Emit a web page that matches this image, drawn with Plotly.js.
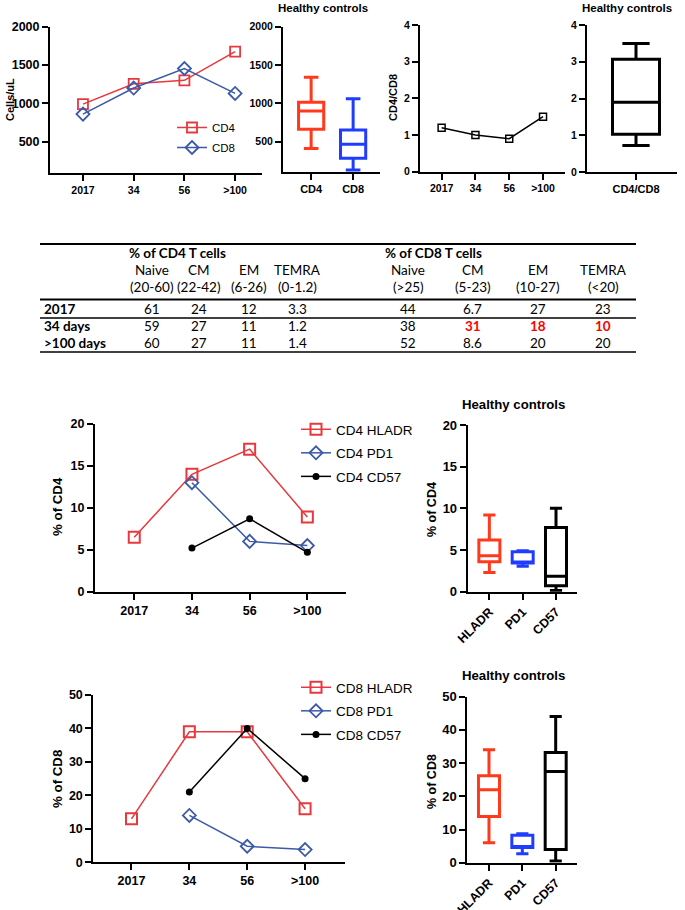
<!DOCTYPE html>
<html>
<head>
<meta charset="utf-8">
<script src="https://cdn.plot.ly/plotly-3.0.1.min.js"></script>
<style>html,body{margin:0;padding:0;background:#fff;}#chart{width:685px;height:910px;}</style>
</head>
<body>
<div id="chart"></div>
<script>
// ---------------- DATA ----------------
const timepoints = ['2017', '34', '56', '>100'];

const cd4Counts = [990, 1255, 1300, 1675];
const cd8Counts = [860, 1200, 1455, 1130];

const ratioCd4Cd8 = [1.2, 1.0, 0.9, 1.5];

const cd4Hladr = [6.5, 14, 17, 8.9];
const cd4Pd1 = [null, 13, 6, 5.5];
const cd4Cd57 = [null, 5.2, 8.7, 4.7];

const cd8Hladr = [13, 39, 39, 16];
const cd8Pd1 = [null, 14, 4.8, 3.8];
const cd8Cd57 = [null, 21, 40, 25];

// healthy control box summaries: [lowerfence, q1, median, q3, upperfence]
const hcCountCats = ['CD4', 'CD8'];
const hcCd4Count = [410, 662, 900, 1014, 1340];
const hcCd8Count = [131, 284, 467, 653, 1061];

const hcRatioCats = ['CD4/CD8'];
const hcRatio = [0.72, 1.03, 1.9, 3.07, 3.5];

const hcMarkerCats = ['HLADR', 'PD1', 'CD57'];
const hcCd4Hladr = [2.3, 3.6, 4.3, 6.2, 9.2];
const hcCd4Pd1 = [3.05, 3.45, 3.55, 4.8, 4.9];
const hcCd4Cd57 = [0.15, 0.7, 1.85, 7.7, 10];

const hcCd8Hladr = [6, 13.9, 22, 26.2, 34];
const hcCd8Pd1 = [2.7, 4.6, 4.8, 8.3, 8.7];
const hcCd8Cd57 = [0.5, 4, 27.5, 33.2, 44];

// table
const cd4Subsets = ['Naive', 'CM', 'EM', 'TEMRA'];
const cd4Ranges = ['(20-60)', '(22-42)', '(6-26)', '(0-1.2)'];
const cd8Subsets = ['Naive', 'CM', 'EM', 'TEMRA'];
const cd8Ranges = ['(>25)', '(5-23)', '(10-27)', '(<20)'];
const rowLabels = ['2017', '34 days', '>100 days'];
const row2017 = [61, 24, 12, 3.3, 44, 6.7, 27, 23];
const row34 = [59, 27, 11, 1.2, 38, 31, 18, 10];
const row100 = [60, 27, 11, 1.4, 52, 8.6, 20, 20];
const row34Abnormal = [5, 6, 7]; // column indices shown in red

// ---------------- LAYOUT HELPERS ----------------
const W = 685, H = 910;
const FONT = 'Liberation Sans, Arial, sans-serif';
const TFONT = 'Lato, Open Sans, sans-serif';
const RED = '#e8383d', BLUE = '#3d5aa8', BOXRED = '#ff3a1c', BOXBLUE = '#1f3cff';
const px = v => v / W;
const py = v => 1 - v / H;
const dX = (a, b) => [px(a), px(b)];
const dY = (top, bottom) => [py(bottom), py(top)];

function axis(domain, anchor, extra, fsize) {
  return Object.assign({
    domain: domain, anchor: anchor,
    showline: true, linewidth: 2, linecolor: '#000',
    ticks: 'outside', ticklen: 6, tickwidth: 2, tickcolor: '#000',
    showgrid: false, zeroline: false, fixedrange: true,
    tickfont: {family: FONT, size: fsize, color: '#000', weight: 'bold'}
  }, extra);
}

function lineTrace(y, name, xa, ya, color, symbol, msize, mline, legend) {
  return {
    type: 'scatter', mode: 'lines+markers', x: timepoints, y: y, name: name,
    xaxis: xa, yaxis: ya, legend: legend, showlegend: !!legend, legendgroup: name,
    line: {color: color, width: 1.5},
    marker: {symbol: symbol, size: msize, color: color, line: {color: color, width: mline}},
    connectgaps: false, hoverinfo: 'skip'
  };
}

function boxTrace(cat, s, xa, ya, color, width) {
  return {
    type: 'box', x: [cat], lowerfence: [s[0]], q1: [s[1]], median: [s[2]], q3: [s[3]], upperfence: [s[4]],
    xaxis: xa, yaxis: ya, showlegend: false, boxpoints: false,
    line: {color: color, width: 3}, fillcolor: 'rgba(0,0,0,0)',
    width: width, whiskerwidth: 0.58, hoverinfo: 'skip'
  };
}

// ---------------- TRACES ----------------
const traces = [
  lineTrace(cd4Counts, 'CD4', 'x', 'y', RED, 'square-open', 10, 1.8, 'legend'),
  lineTrace(cd8Counts, 'CD8', 'x', 'y', BLUE, 'diamond-open', 10, 1.8, 'legend'),
  boxTrace(hcCountCats[0], hcCd4Count, 'x2', 'y2', BOXRED, 0.6),
  boxTrace(hcCountCats[1], hcCd8Count, 'x2', 'y2', BOXBLUE, 0.6),
  lineTrace(ratioCd4Cd8, 'CD4/CD8', 'x3', 'y3', '#000', 'square-open', 7, 1.5, null),
  boxTrace(hcRatioCats[0], hcRatio, 'x4', 'y4', '#000', 0.94),
  lineTrace(cd4Hladr, 'CD4 HLADR', 'x5', 'y5', RED, 'square-open', 11, 2, 'legend2'),
  lineTrace(cd4Pd1, 'CD4 PD1', 'x5', 'y5', BLUE, 'diamond-open', 10, 1.8, 'legend2'),
  lineTrace(cd4Cd57, 'CD4 CD57', 'x5', 'y5', '#000', 'circle', 7, 0, 'legend2'),
  boxTrace(hcMarkerCats[0], hcCd4Hladr, 'x6', 'y6', BOXRED, 0.63),
  boxTrace(hcMarkerCats[1], hcCd4Pd1, 'x6', 'y6', BOXBLUE, 0.63),
  boxTrace(hcMarkerCats[2], hcCd4Cd57, 'x6', 'y6', '#000', 0.63),
  lineTrace(cd8Hladr, 'CD8 HLADR', 'x7', 'y7', RED, 'square-open', 11, 2, 'legend3'),
  lineTrace(cd8Pd1, 'CD8 PD1', 'x7', 'y7', BLUE, 'diamond-open', 10, 1.8, 'legend3'),
  lineTrace(cd8Cd57, 'CD8 CD57', 'x7', 'y7', '#000', 'circle', 7, 0, 'legend3'),
  boxTrace(hcMarkerCats[0], hcCd8Hladr, 'x8', 'y8', BOXRED, 0.63),
  boxTrace(hcMarkerCats[1], hcCd8Pd1, 'x8', 'y8', BOXBLUE, 0.63),
  boxTrace(hcMarkerCats[2], hcCd8Cd57, 'x8', 'y8', '#000', 0.63)
];

// ---------------- ANNOTATIONS ----------------
const ann = [];
function txt(text, x, y, size, opts) {
  ann.push(Object.assign({
    text: text, x: px(x), y: py(y), xref: 'paper', yref: 'paper',
    xanchor: 'center', yanchor: 'middle', showarrow: false,
    font: {family: FONT, size: size, color: '#000', weight: 'bold'}
  }, opts || {}));
}
// panel titles
txt('Healthy controls', 323, 8, 11.5);
txt('Healthy controls', 627, 8, 11.5);
txt('Healthy controls', 513, 404, 13.2);
txt('Healthy controls', 513, 675, 13.2);
// y axis titles
txt('Cells/uL', 10, 100, 11, {textangle: -90});
txt('CD4/CD8', 393, 98, 11, {textangle: -90});
txt('% of CD4', 57, 507, 13.3, {textangle: -90});
txt('% of CD4', 432, 510, 12.5, {textangle: -90});
txt('% of CD8', 57, 779, 13.3, {textangle: -90});
txt('% of CD8', 432, 782, 12.5, {textangle: -90});

// table text
const colX = [152, 199, 249, 297, 408, 473, 538, 603];
const tfont = (bold, color) => ({family: TFONT, size: 13.5, color: color || '#000', weight: bold ? 'bold' : 'normal'});
txt('% of CD4 T cells', 127, 253, 13.5, {xanchor: 'left', font: tfont(true)});
txt('% of CD8 T cells', 383, 253, 13.5, {xanchor: 'left', font: tfont(true)});
const subsets = cd4Subsets.concat(cd8Subsets);
const ranges = cd4Ranges.concat(cd8Ranges);
subsets.forEach((s, i) => txt(s, colX[i], 270, 13.5, {font: tfont(false)}));
ranges.forEach((s, i) => txt(s, colX[i], 287, 13.5, {font: tfont(false)}));
const rowY = [309, 326, 343];
const rows = [row2017, row34, row100];
rowLabels.forEach((s, r) => txt(s, 42, rowY[r], 13.5, {xanchor: 'left', font: tfont(true)}));
rows.forEach((row, r) => row.forEach((v, i) => {
  const red = (r === 1 && row34Abnormal.indexOf(i) >= 0);
  txt(String(v), colX[i], rowY[r], 13.5, {font: red ? tfont(true, '#ff0000') : tfont(false)});
}));

const hline = (y, w) => ({type: 'line', xref: 'paper', yref: 'paper', x0: px(40), x1: px(636), y0: py(y), y1: py(y), line: {color: '#000', width: w}});
const shapes = [hline(244, 2), hline(299.5, 2), hline(318, 1.5), hline(352, 1.5)];

// ---------------- LAYOUT ----------------
const catX = arr => ({type: 'category', categoryorder: 'array', categoryarray: arr});
const layout = {
  width: W, height: H, autosize: false,
  margin: {l: 0, r: 0, t: 0, b: 0},
  paper_bgcolor: '#fff', plot_bgcolor: 'rgba(0,0,0,0)',
  showlegend: true,
  font: {family: FONT, color: '#000'},
  xaxis: axis(dX(50, 262), 'y', Object.assign(catX(timepoints), {range: [-0.65, 3.53]}), 10.5),
  yaxis: axis(dY(26.7, 173), 'x', {range: [92, 2000], tickvals: [500, 1000, 1500, 2000]}, 12.5),
  xaxis2: axis(dX(283, 380), 'y2', Object.assign(catX(hcCountCats), {range: [-0.67, 1.64]}), 11),
  yaxis2: axis(dY(26.7, 172), 'x2', {range: [105, 2000], tickvals: [500, 1000, 1500, 2000]}, 10.5),
  xaxis3: axis(dX(420, 565), 'y3', Object.assign(catX(timepoints), {range: [-0.64, 3.65]}), 10.5),
  yaxis3: axis(dY(25, 171.7), 'x3', {range: [0, 4], tickvals: [0, 1, 2, 3, 4]}, 10.5),
  xaxis4: axis(dX(587, 677), 'y4', Object.assign(catX(hcRatioCats), {range: [-0.98, 0.82]}), 11),
  yaxis4: axis(dY(25, 172), 'x4', {range: [0, 4], tickvals: [0, 1, 2, 3, 4]}, 10.5),
  xaxis5: axis(dX(95, 346), 'y5', Object.assign(catX(timepoints), {range: [-0.68, 3.67]}), 12.5),
  yaxis5: axis(dY(424, 591.7), 'x5', {range: [0, 20], tickvals: [0, 5, 10, 15, 20]}, 12.5),
  xaxis6: axis(dX(467.7, 577), 'y6', Object.assign(catX(hcMarkerCats), {range: [-0.65, 2.63], tickangle: -45}), 12.5),
  yaxis6: axis(dY(425, 591.7), 'x6', {range: [0, 20], tickvals: [0, 5, 10, 15, 20]}, 13),
  xaxis7: axis(dX(93.3, 345), 'y7', Object.assign(catX(timepoints), {range: [-0.66, 3.69]}), 12.5),
  yaxis7: axis(dY(695, 862.3), 'x7', {range: [0, 50], tickvals: [0, 10, 20, 30, 40, 50]}, 12.5),
  xaxis8: axis(dX(467.3, 576.7), 'y8', Object.assign(catX(hcMarkerCats), {range: [-0.65, 2.63], tickangle: -45}), 12.5),
  yaxis8: axis(dY(696.7, 862.7), 'x8', {range: [0, 50], tickvals: [0, 10, 20, 30, 40, 50]}, 13),
  legend: {x: px(172), y: py(113), xanchor: 'left', yanchor: 'top', bgcolor: 'rgba(0,0,0,0)', tracegroupgap: 1,
           font: {family: FONT, size: 11.5, color: '#000'}},
  legend2: {x: px(296), y: py(414), xanchor: 'left', yanchor: 'top', bgcolor: 'rgba(0,0,0,0)', tracegroupgap: 3,
            font: {family: FONT, size: 13.5, color: '#000'}},
  legend3: {x: px(296), y: py(672), xanchor: 'left', yanchor: 'top', bgcolor: 'rgba(0,0,0,0)', tracegroupgap: 3,
            font: {family: FONT, size: 13.5, color: '#000'}},
  annotations: ann,
  shapes: shapes
};

Plotly.newPlot('chart', traces, layout, {staticPlot: true, displayModeBar: false});
</script>
</body>
</html>
